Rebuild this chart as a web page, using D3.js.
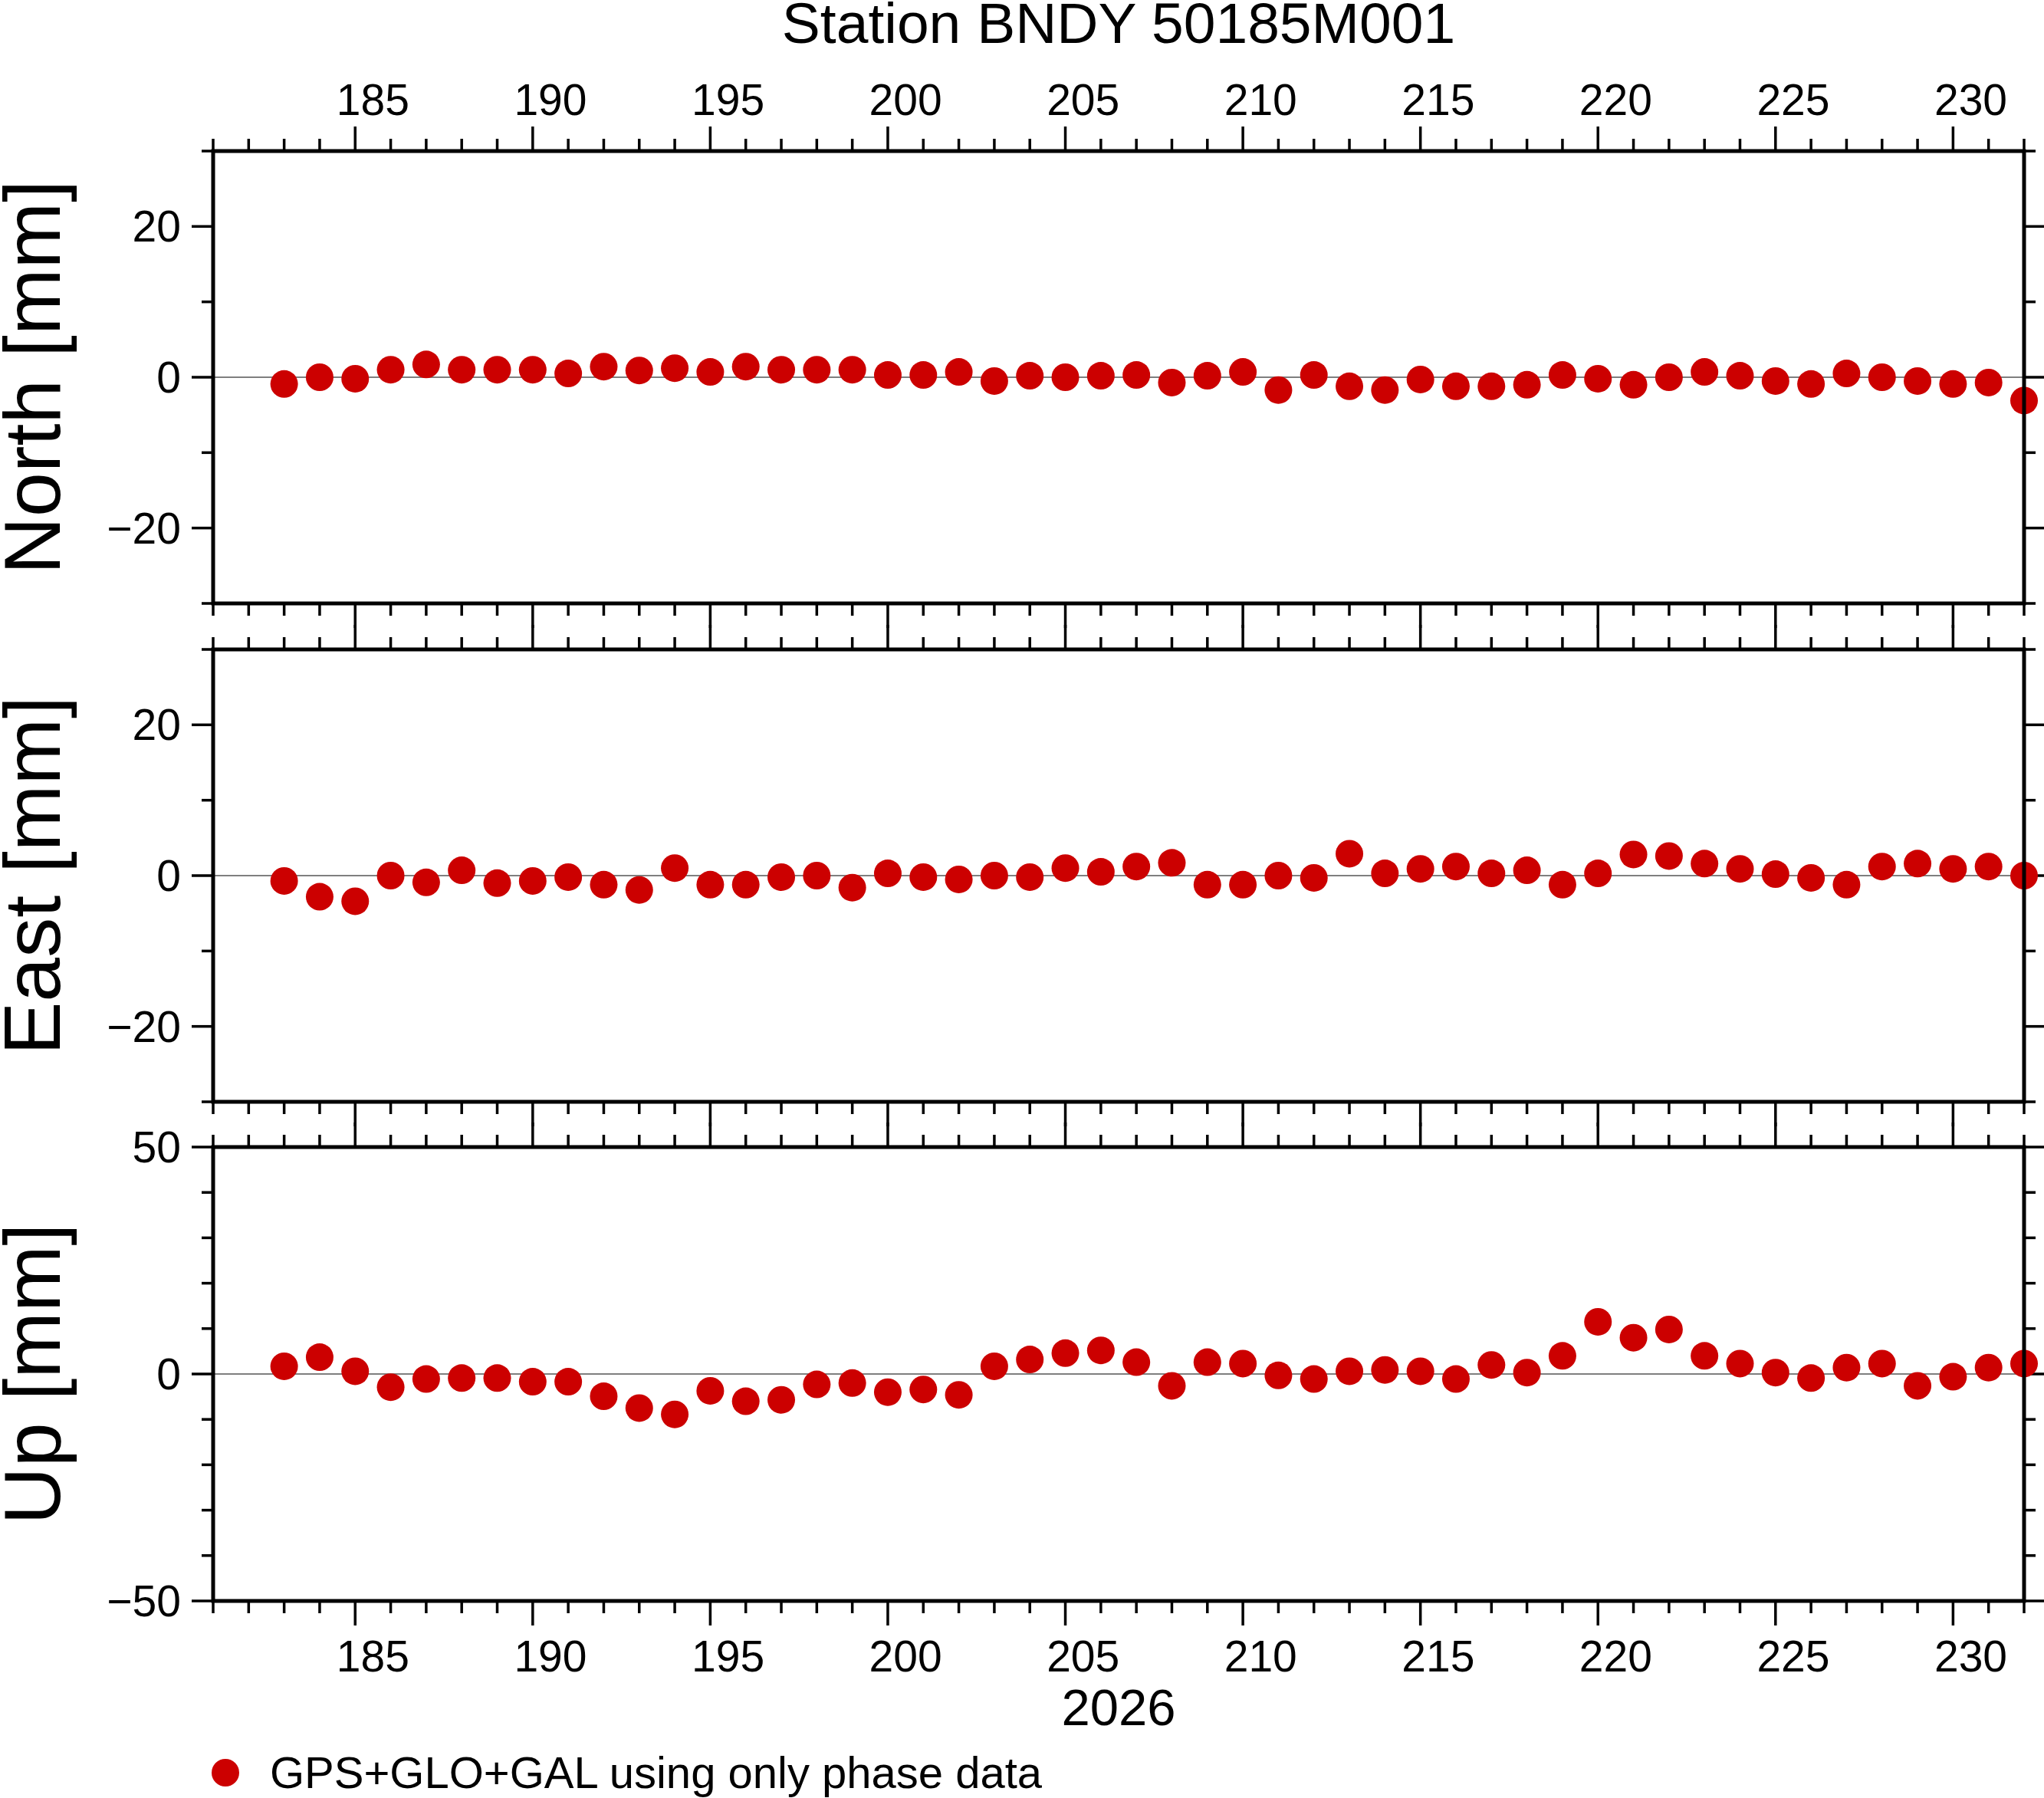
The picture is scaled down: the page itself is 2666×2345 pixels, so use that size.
<!DOCTYPE html><html><head><meta charset="utf-8"><script src="https://cdn.jsdelivr.net/npm/d3@7"></script>
<style>body{margin:0;background:#fff}text{font-family:"Liberation Sans",Arial,sans-serif}</style></head><body>
<script>
const days = d3.range(183,233);
const north = [-0.9,0,-0.2,1.0,1.7,1,1,1,0.5,1.4,0.9,1.2,0.7,1.4,1,1,1,0.3,0.3,0.7,-0.5,0.2,0,0.2,0.3,-0.7,0.2,0.7,-1.7,0.3,-1.2,-1.7,-0.3,-1.2,-1.2,-1,0.3,-0.2,-1,0,0.7,0.2,-0.5,-0.9,0.5,0,-0.5,-0.9,-0.7,-3.1];
const east = [-0.7,-2.8,-3.4,0,-0.9,0.7,-1,-0.7,-0.2,-1.2,-1.9,1,-1.2,-1.2,-0.2,0,-1.6,0.3,-0.2,-0.5,0,-0.2,1,0.5,1.2,1.7,-1.2,-1.2,0,-0.3,2.9,0.3,0.9,1.2,0.3,0.7,-1.2,0.3,2.8,2.6,1.6,0.9,0.2,-0.3,-1.2,1.2,1.6,0.9,1.2,0];
const up = [1.7,3.7,0.6,-2.9,-1.1,-0.9,-0.9,-1.7,-1.7,-4.9,-7.5,-8.9,-3.7,-6,-5.7,-2.3,-2,-4,-3.4,-4.6,1.7,3.2,4.6,5.2,2.6,-2.6,2.6,2.3,-0.3,-1.1,0.6,0.9,0.6,-1.1,2,0.3,4,11.5,8,9.8,4,2.3,0.3,-0.9,1.4,2.3,-2.6,-0.6,1.4,2.3];
const xTickLabels = [185,190,195,200,205,210,215,220,225,230];
const panels = [
 {label:"North [mm]", data:north, domain:[-30,30], major:[-20,0,20], top:197, bottom:787},
 {label:"East [mm]", data:east, domain:[-30,30], major:[-20,0,20], top:847, bottom:1437},
 {label:"Up [mm]", data:up, domain:[-50,50], major:[-50,0,50], top:1496, bottom:2088}
];
const W=2666,H=2345,L=278,R=2640;
const svg=d3.select("body").append("svg").attr("width",W).attr("height",H);
const x=d3.scaleLinear().domain([181,232]).range([L,R]);
const minorX=d3.range(181,233);
svg.append("text").attr("x",(L+R)/2).attr("y",56).attr("text-anchor","middle").attr("font-size",75).text("Station BNDY 50185M001");
panels.forEach((p,i)=>{
  const y=d3.scaleLinear().domain(p.domain).range([p.bottom,p.top]);
  const g=svg.append("g");
  g.append("line").attr("x1",L).attr("x2",R).attr("y1",y(0)).attr("y2",y(0)).attr("stroke","#555").attr("stroke-width",1.5);
  [[p.top,-1],[p.bottom,1]].forEach(([yy,dir])=>{
    g.selectAll(null).data(minorX).join("line").attr("x1",d=>x(d)).attr("x2",d=>x(d)).attr("y1",yy)
     .attr("y2",d=>yy+dir*(d%5===0?32:16)).attr("stroke","#000").attr("stroke-width",3.5);
  });
  const minorY=d3.range(p.domain[0],p.domain[1]+1,10);
  [[L,-1],[R,1]].forEach(([xx,dir])=>{
    g.selectAll(null).data(minorY).join("line").attr("y1",d=>y(d)).attr("y2",d=>y(d)).attr("x1",xx)
     .attr("x2",d=>xx+dir*(p.major.includes(d)?28:15)).attr("stroke","#000").attr("stroke-width",3.5);
  });
  g.selectAll(null).data(p.major).join("text").attr("x",L-42).attr("y",d=>y(d)+20).attr("text-anchor","end")
   .attr("font-size",57).text(d=>d<0?"\u2212"+Math.abs(d):d);
  g.selectAll(null).data(p.data).join("circle").attr("cx",(d,j)=>x(days[j])).attr("cy",d=>y(d)).attr("r",18).attr("fill","#cc0000");
  g.append("rect").attr("x",L).attr("y",p.top).attr("width",R-L).attr("height",p.bottom-p.top).attr("fill","none").attr("stroke","#000").attr("stroke-width",5);
  g.append("text").attr("transform",`translate(${78},${(p.top+p.bottom)/2}) rotate(-90)`).attr("text-anchor","middle").attr("font-size",104).text(p.label);
});
svg.selectAll(null).data(xTickLabels).join("text").attr("x",d=>x(d+0.5)).attr("y",150).attr("text-anchor","middle").attr("font-size",57).text(d=>d);
svg.selectAll(null).data(xTickLabels).join("text").attr("x",d=>x(d+0.5)).attr("y",2180).attr("text-anchor","middle").attr("font-size",57).text(d=>d);
svg.append("text").attr("x",(L+R)/2).attr("y",2250).attr("text-anchor","middle").attr("font-size",67).text("2026");
svg.append("circle").attr("cx",294).attr("cy",2312).attr("r",18).attr("fill","#cc0000");
svg.append("text").attr("x",352).attr("y",2332).attr("font-size",58).text("GPS+GLO+GAL using only phase data");
</script></body></html>
